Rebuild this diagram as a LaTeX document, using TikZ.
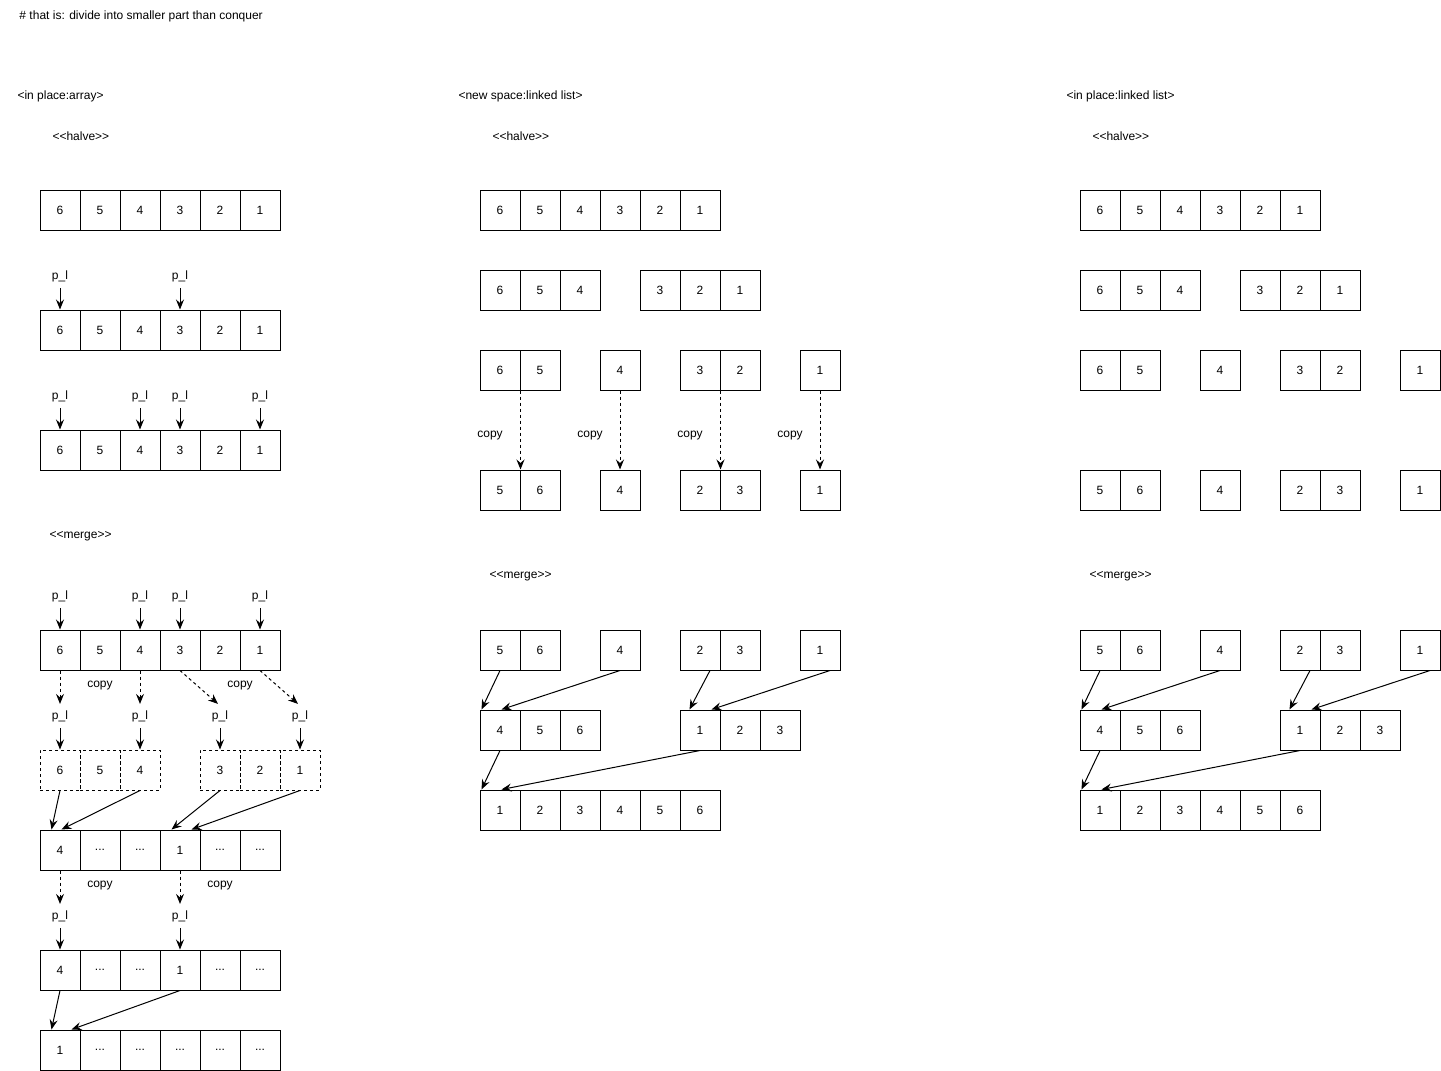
\documentclass[tikz,border=0pt]{standalone}
\usepackage{fontspec}
\setmainfont{Liberation Sans}[Ligatures=TeXOff]
\usetikzlibrary{arrows.meta,positioning,calc}
\newcommand{\elided}{...}

\begin{document}
\begin{tikzpicture}[x=1pt,y=-1pt,>={Stealth[length=10pt,width=8pt,inset=3.5pt]},line width=1pt,font=\fontsize{12}{14}\selectfont,
cell/.style={draw,line width=1pt,minimum size=40pt,inner sep=0pt},
dcell/.style={cell,dash pattern=on 3pt off 3pt},
ptr/.style={inner sep=6pt},
note/.style={anchor=west,inner sep=0pt},
copyarrow/.style={->,dash pattern=on 3pt off 3pt}]
\useasboundingbox (0,0) rectangle (1441,1071);

\node[note] (title) at (19,16.5) {\# that is: divide into smaller part than conquer};
\node[note] (headA) at (17,96.5) {<in place:array>};
\node[note] (headB) at (458,96.5) {<new space:linked list>};
\node[note] (headC) at (1066,96.5) {<in place:linked list>};
\node[note] (halveA) at (52,136.5) {<<halve>>};
\node[note] (halveB) at (492,136.5) {<<halve>>};
\node[note] (halveC) at (1092,136.5) {<<halve>>};
\node[note] (mergeA) at (49,536.5) {<<merge>>};
\node[note] (mergeB) at (489,576.5) {<<merge>>};
\node[note] (mergeC) at (1089,576.5) {<<merge>>};

% in place: array
\foreach \v [count=\i] in {6,5,4,3,2,1} {
  \node[cell] (A1\i) at ({20+40*\i},210) {\v};
  \node[cell] (A2\i) at ({20+40*\i},330) {\v};
  \node[cell] (A3\i) at ({20+40*\i},450) {\v};
  \node[cell] (A4\i) at ({20+40*\i},650) {\v};
}
\foreach \v/\x [count=\i] in {6/60,5/100,4/140,3/220,2/260,1/300}
  \node[dcell] (A5\i) at (\x,770) {\v};
\foreach \v [count=\i] in {4,\elided,\elided,1,\elided,\elided} {
  \node[cell] (A6\i) at ({20+40*\i},850) {\v};
  \node[cell] (A7\i) at ({20+40*\i},970) {\v};
}
\foreach \v [count=\i] in {1,\elided,\elided,\elided,\elided,\elided}
  \node[cell] (A8\i) at ({20+40*\i},1050) {\v};

\foreach \n/\x/\t in {a/60/1,b/180/4} {
  \node[ptr] (P2\n) at (\x,276) {p\_l};
  \draw[->] (P2\n) -- (A2\t);
}
\foreach \n/\x/\t in {a/60/1,b/140/3,c/180/4,d/260/6} {
  \node[ptr] (P3\n) at (\x,396) {p\_l};
  \draw[->] (P3\n) -- (A3\t);
  \node[ptr] (P4\n) at (\x,596) {p\_l};
  \draw[->] (P4\n) -- (A4\t);
}
\foreach \n/\x/\t in {a/60/1,b/140/3,c/220/4,d/300/6} {
  \node[ptr] (P5\n) at (\x,716) {p\_l};
  \draw[->] (P5\n) -- (A5\t);
}
\draw[copyarrow] (A41.south) -- (P5a);
\draw[copyarrow] (A43.south) -- (P5b);
\draw[copyarrow] (A44.south) -- ([xshift=-2pt]P5c.north);
\draw[copyarrow] (A46.south) -- ([xshift=-2pt]P5d.north);
\node (copyA1) at (100,686) {copy};
\node (copyA2) at (240,686) {copy};

\draw[->] (A51.south) -- ([xshift=12pt]A61.north west);
\draw[->] (A53.south) -- ([xshift=22pt]A61.north west);
\draw[->] (A54.south) -- ([xshift=12pt]A64.north west);
\draw[->] (A56.south) -- ([xshift=32pt]A64.north west);

\foreach \n/\x/\t in {a/60/1,b/180/4} {
  \node[ptr] (P7\n) at (\x,916) {p\_l};
  \draw[->] (P7\n) -- (A7\t);
  \draw[copyarrow] (A6\t.south) -- (P7\n);
}
\node (copyA3) at (100,886) {copy};
\node (copyA4) at (220,886) {copy};

\draw[->] (A71.south) -- ([xshift=12pt]A81.north west);
\draw[->] (A74.south) -- ([xshift=32pt]A81.north west);

% linked lists: new space (B) and in place (C)
\foreach \c/\dx in {B/0,C/600} {
  \foreach \v [count=\i] in {6,5,4,3,2,1}
    \node[cell] (\c1\i) at ({\dx+460+40*\i},210) {\v};
  \foreach \v/\x [count=\i] in {6/500,5/540,4/580,3/660,2/700,1/740}
    \node[cell] (\c2\i) at ({\dx+\x},290) {\v};
  \foreach \v/\x [count=\i] in {6/500,5/540,4/620,3/700,2/740,1/820}
    \node[cell] (\c3\i) at ({\dx+\x},370) {\v};
  \foreach \v/\x [count=\i] in {5/500,6/540,4/620,2/700,3/740,1/820} {
    \node[cell] (\c4\i) at ({\dx+\x},490) {\v};
    \node[cell] (\c5\i) at ({\dx+\x},650) {\v};
  }
  \foreach \v/\x [count=\i] in {4/500,5/540,6/580,1/700,2/740,3/780}
    \node[cell] (\c6\i) at ({\dx+\x},730) {\v};
  \foreach \v [count=\i] in {1,2,3,4,5,6}
    \node[cell] (\c7\i) at ({\dx+460+40*\i},810) {\v};
  \draw[->] (\c51.south) -- ([xshift=2pt]\c61.north west);
  \draw[->] (\c53.south) -- ([xshift=22pt]\c61.north west);
  \draw[->] ([xshift=10pt]\c54.south) -- ([xshift=10pt]\c64.north west);
  \draw[->] ([xshift=10pt]\c56.south) -- ([xshift=32pt]\c64.north west);
  \draw[->] (\c61.south) -- ([xshift=2pt]\c71.north west);
  \draw[->] (\c64.south) -- ([xshift=22pt]\c71.north west);
}

\draw[copyarrow] (B31.south east) -- (B41.north east);
\draw[copyarrow] (B33.south) -- (B43.north);
\draw[copyarrow] (B34.south east) -- (B44.north east);
\draw[copyarrow] (B36.south) -- (B46.north);
\foreach \k/\x in {1/490,2/590,3/690,4/790}
  \node (copyB\k) at (\x,436) {copy};
\end{tikzpicture}
\end{document}
